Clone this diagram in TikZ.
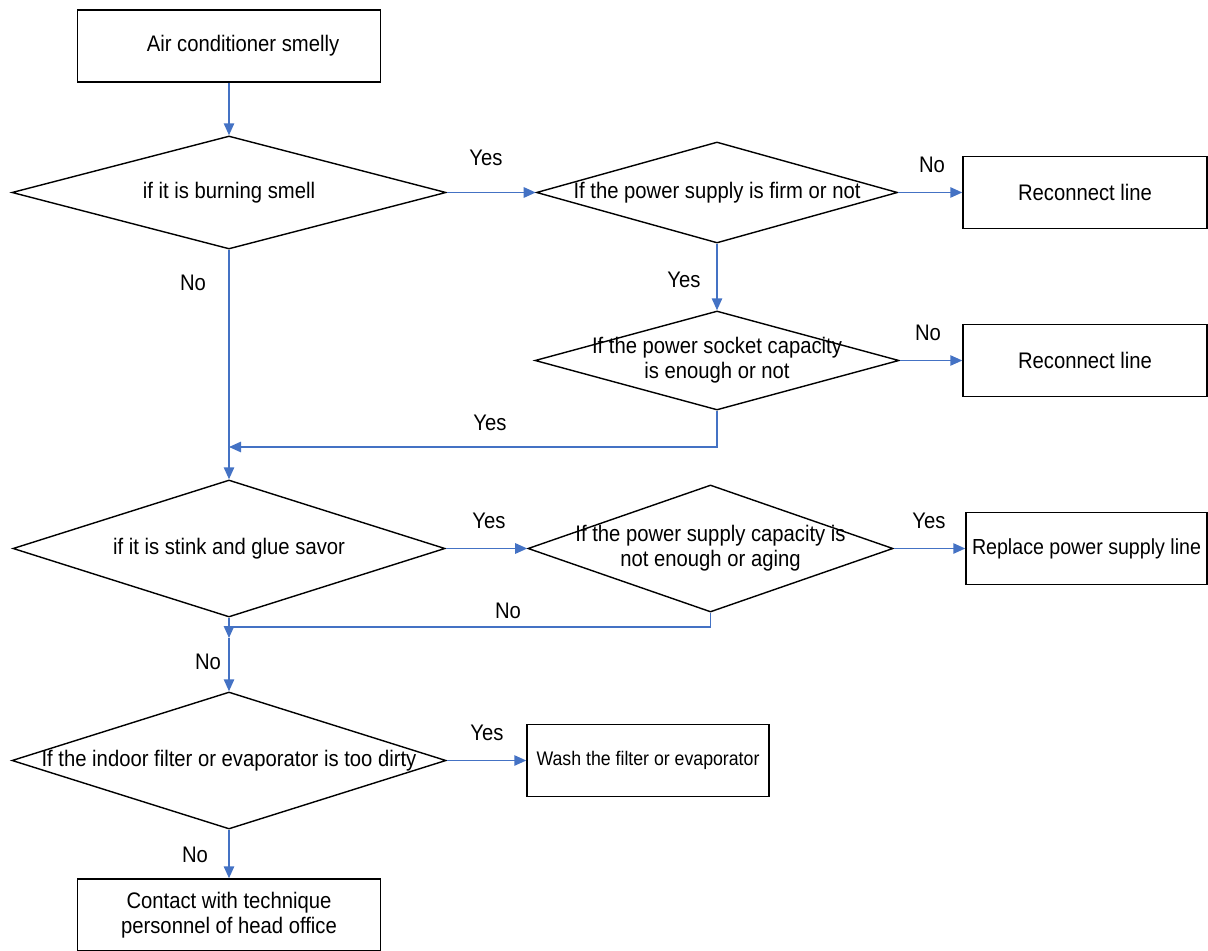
\documentclass[tikz,border=0pt]{standalone}
\usepackage{fontspec}
\setmainfont{Liberation Sans}[FakeStretch=0.9]
\usetikzlibrary{arrows.meta,shapes.geometric}

\definecolor{flowblue}{RGB}{68,114,196}

\begin{document}
\begin{tikzpicture}[
  x=0.025cm, y=-0.025cm,
  >={Triangle[length=0.3cm,width=0.26cm]},
  font=\fontsize{16}{18}\selectfont,
  box/.style={draw, line width=1pt, align=center, minimum height=1.8cm,
              minimum width=6.1cm, inner xsep=1pt},
  wide/.style={box, minimum width=7.575cm},
  decision/.style={draw, diamond, line width=1pt, inner sep=0pt},
  flow/.style={->, flowblue, line width=1.1pt},
  link/.style={flowblue, line width=1.1pt}
]
  \useasboundingbox (0,0) rectangle (1208,951);

  \node[wide] (start) at (229,46) {\hspace*{0.7cm}Air conditioner smelly};
  \node[decision, minimum width=10.85cm, minimum height=2.825cm,
        label={[align=center]center:if it is burning smell}] (burn) at (229,192.5) {};
  \node[decision, minimum width=9.025cm, minimum height=2.525cm,
        label={[align=center]center:If the power supply is firm or not}] (firm) at (717,192.5) {};
  \node[box] (recon1) at (1085,192.5) {Reconnect line};
  \node[decision, minimum width=9.1cm, minimum height=2.475cm,
        label={[align=center]center:If the power socket capacity\\is enough or not}] (socket) at (717,360.5) {};
  \node[box] (recon2) at (1085,360.5) {Reconnect line};
  \node[decision, minimum width=10.8cm, minimum height=3.425cm,
        label={[align=center]center:if it is stink and glue savor}] (stink) at (229,548.5) {};
  \node[decision, minimum width=9.125cm, minimum height=3.175cm,
        label={[align=center]center:If the power supply capacity is\\not enough or aging}] (capacity) at (710.5,548.5) {};
  \node[box, minimum width=6.025cm, font=\fontsize{15.5}{18}\selectfont] (replace) at (1086.5,548.5) {Replace power supply line};
  \node[decision, minimum width=10.85cm, minimum height=3.425cm,
        label={[align=center]center:If the indoor filter or evaporator is too dirty}] (dirty) at (229,760.5) {};
  \node[box, minimum width=6.05cm, font=\fontsize{14}{16}\selectfont] (wash) at (648,760.5) {Wash the filter or evaporator};
  \node[wide] (contact) at (229,915) {Contact with technique\\personnel of head office};

  \coordinate (join1) at (229,447);
  \coordinate (join2) at (229,627);
  \coordinate (join2b) at (229,638);

  \draw[flow] (start) -- (burn);
  \draw[flow] (burn) -- (firm);
  \draw[flow] (firm) -- (recon1);
  \draw[flow] (firm) -- (socket);
  \draw[flow] (socket) -- (recon2);
  \draw[flow] (socket.south) |- (join1);
  \draw[flow] (burn) -- (stink);
  \draw[flow] (stink) -- (capacity);
  \draw[flow] (capacity) -- (replace);
  \draw[link] (capacity.south) |- (join2);
  \draw[flow] (stink) -- (join2b);
  \draw[flow] (join2b) -- (dirty);
  \draw[flow] (dirty) -- (wash);
  \draw[flow] (dirty) -- (contact);

  \node (yesFirm) at (486,158) {Yes};
  \node (noBurn) at (193,283) {No};
  \node (noRecon1) at (932,165) {No};
  \node (yesSocket) at (684,280) {Yes};
  \node (noRecon2) at (928,333) {No};
  \node (yesJoin) at (490,423) {Yes};
  \node (yesStink) at (489,521) {Yes};
  \node (yesReplace) at (929,521) {Yes};
  \node (noCap) at (508,611) {No};
  \node (noStink) at (208,662) {No};
  \node (yesWash) at (487,733) {Yes};
  \node (noDirty) at (195,855) {No};
\end{tikzpicture}
\end{document}
